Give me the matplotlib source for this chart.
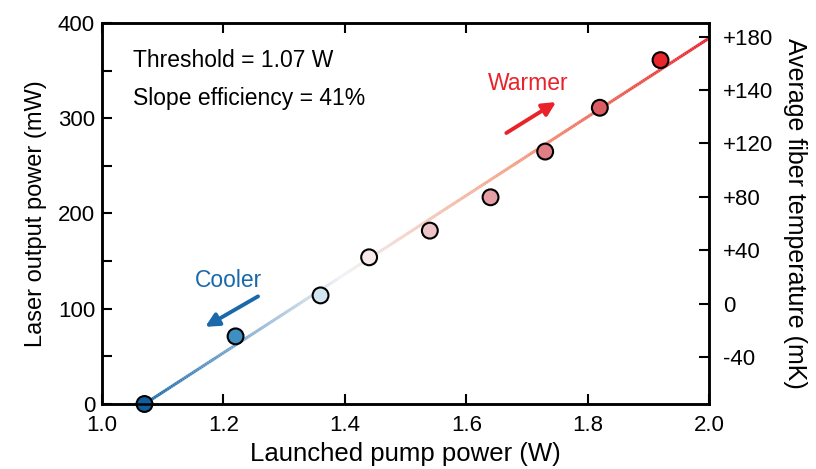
import numpy as np
import matplotlib
import matplotlib.pyplot as plt
from matplotlib.collections import LineCollection
from matplotlib.colors import LinearSegmentedColormap

plt.rcParams['font.family'] = ['Liberation Sans', 'DejaVu Sans']

# measured points
pump_w = [1.07, 1.22, 1.36, 1.44, 1.54, 1.64, 1.73, 1.82, 1.92]
output_mw = [0, 71, 114, 154, 182, 217, 265, 311, 361]
point_colors = ['#0f5fa0', '#3f8fc2', '#d2e6f1', '#f7e8ea', '#edc4c7',
                '#e49ea4', '#e07d85', '#dc5c64', '#e8262c']

# linear fit
threshold_w = 1.07
slope_mw_per_w = 413
fit_x_end = 2.0

# right axis labels (as printed)
temp_labels = ['-40', '0', '+40', '+80', '+120', '+140', '+180']

fig = plt.figure(figsize=(8.16, 4.69), dpi=100)
ax = fig.add_axes([0.125, 0.1386, 0.744, 0.8124])

# gradient fit line
cmap = LinearSegmentedColormap.from_list(
    'fit', [(0.0, '#1a6aab'), (0.35, '#f2f2f6'), (0.65, '#f4a283'), (1.0, '#e8232a')])
xs = np.linspace(threshold_w, fit_x_end, 300)
ys = slope_mw_per_w * (xs - threshold_w)
pts = np.column_stack([xs, ys]).reshape(-1, 1, 2)
segs = np.concatenate([pts[:-1], pts[1:]], axis=1)
lc = LineCollection(segs, cmap=cmap, linewidth=2.2, zorder=2)
lc.set_array(np.linspace(0, 1, len(segs)))
ax.add_collection(lc)

ax.scatter(pump_w, output_mw, s=130, c=point_colors, edgecolors='black',
           linewidths=1.5, zorder=3, clip_on=False)

ax.set_xlim(1.0, 2.0)
ax.set_ylim(0, 400)
ax.set_xticks([1.0, 1.2, 1.4, 1.6, 1.8, 2.0])
ax.set_xticklabels(['1.0', '1.2', '1.4', '1.6', '1.8', '2.0'])
ax.set_yticks([0, 100, 200, 300, 400])
ax.set_yticks([50, 150, 250, 350], minor=True)
ax.tick_params(direction='in', length=7, width=1.5, labelsize=16, top=True, pad=5)
ax.tick_params(axis='x', pad=8)
ax.tick_params(which='minor', direction='in', length=7, width=1.5)
for sp in ax.spines.values():
    sp.set_linewidth(1.8)

ax.set_xlabel('Launched pump power (W)', fontsize=18.5, labelpad=4)
ax.set_ylabel('Laser output power (mW)', fontsize=17, labelpad=8)

# right axis
ax2 = ax.twinx()
ax2.set_ylim(-0.879, 6.254)
ax2.set_yticks(range(len(temp_labels)))
ax2.set_yticklabels(temp_labels)
ax2.tick_params(direction='in', length=7, width=1.5, labelsize=16, pad=10)
for sp in ax2.spines.values():
    sp.set_linewidth(1.8)
ax2.set_ylabel('Average fiber temperature (mK)', fontsize=18, rotation=270, labelpad=24)

# annotations
ax.text(1.051, 361, 'Threshold = 1.07 W', fontsize=16.5, va='center', ha='left')
ax.text(1.051, 321, 'Slope efficiency = 41%', fontsize=16.5, va='center', ha='left')

ax.text(1.208, 130, 'Cooler', fontsize=16.5, color='#1a6aab', ha='center', va='center')
ax.annotate('', xy=(1.170, 81), xytext=(1.257, 113),
            arrowprops=dict(arrowstyle='-|>', color='#1a6aab', lw=2.8,
                            mutation_scale=20, shrinkA=0, shrinkB=0))
ax.text(1.702, 336, 'Warmer', fontsize=16.5, color='#e8232a', ha='center', va='center')
ax.annotate('', xy=(1.748, 317), xytext=(1.666, 284.5),
            arrowprops=dict(arrowstyle='-|>', color='#e8232a', lw=2.8,
                            mutation_scale=20, shrinkA=0, shrinkB=0))

fig.savefig('out.png', dpi=100)
